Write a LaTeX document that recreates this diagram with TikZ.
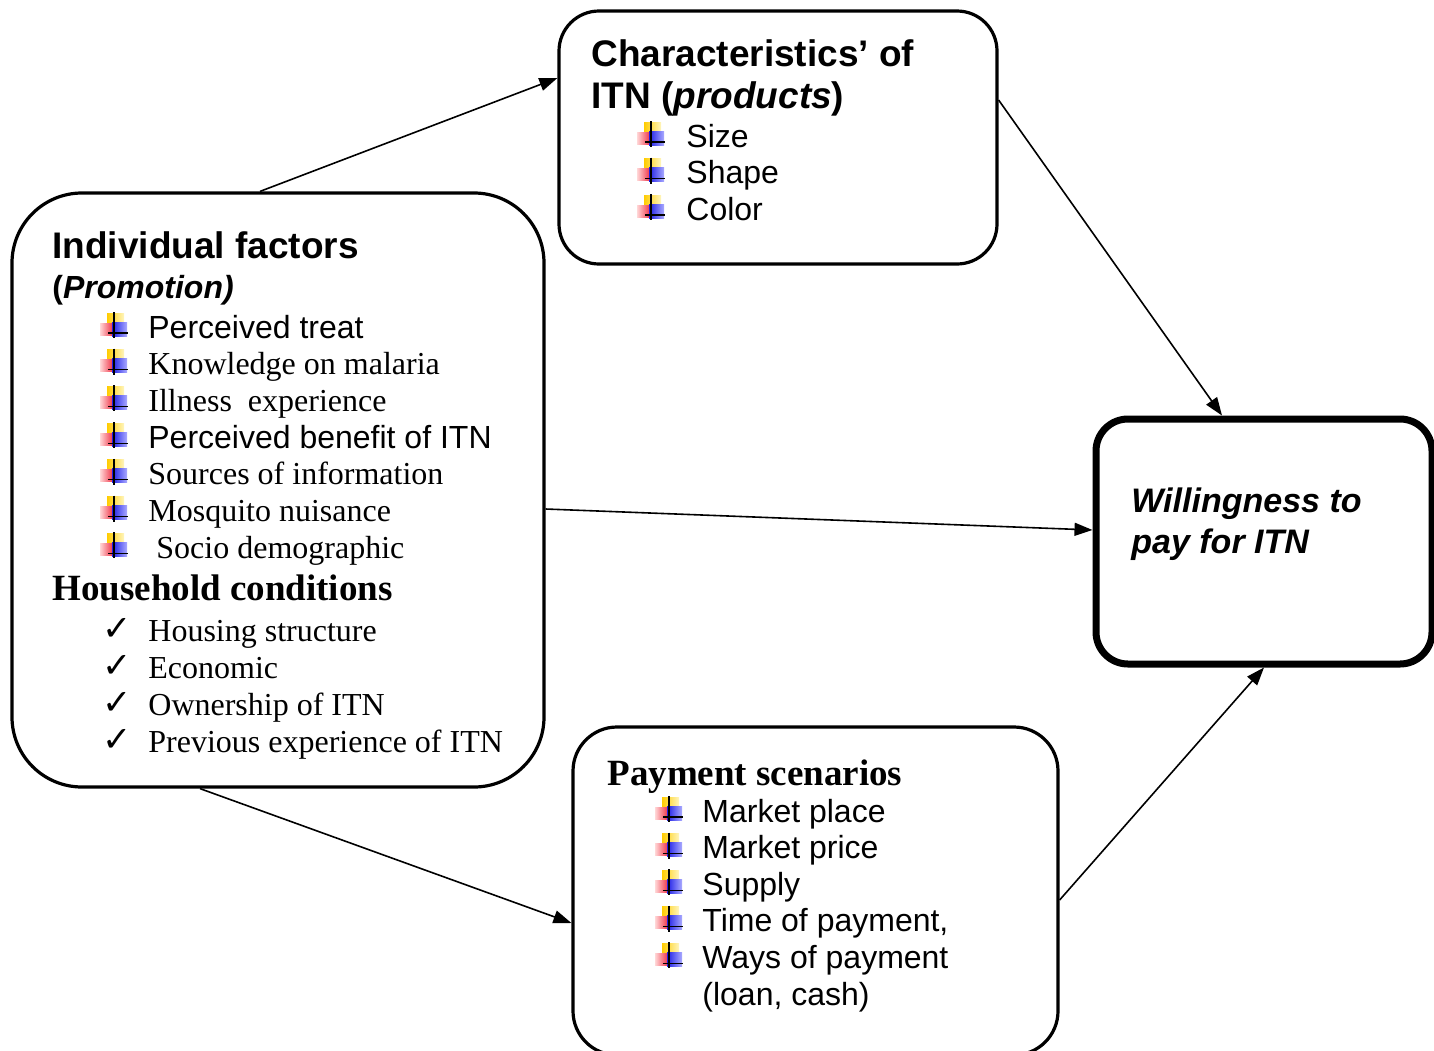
\documentclass[tikz,border=0pt]{standalone}
\usepackage{fontspec}
\setmainfont{Liberation Serif}
\setsansfont{Liberation Sans}
\newfontfamily\checkfont{DejaVu Sans}
\usepackage{tikz}
\usetikzlibrary{positioning}
\usetikzlibrary{shapes,arrows,arrows.meta,fit}

\definecolor{markgold}{RGB}{255,204,0}
\definecolor{marklight}{RGB}{255,245,190}
\definecolor{markred}{RGB}{240,50,70}
\definecolor{markpink}{RGB}{255,215,215}
\definecolor{markblue}{RGB}{30,30,230}
\definecolor{markpale}{RGB}{170,170,255}

\tikzset{
  box/.style={draw, line width=1.6pt, inner sep=0pt},
  head/.style={anchor=base west, inner sep=0pt, font=\sffamily\bfseries\fontsize{18.5}{22}\selectfont},
  serifhead/.style={anchor=base west, inner sep=0pt, font=\bfseries\fontsize{18.5}{22}\selectfont},
  item/.style={anchor=base west, inner sep=0pt, font=\fontsize{16}{19}\selectfont},
  tick/.style={anchor=base west, inner sep=0pt, font=\checkfont\fontsize{17.5}{20}\selectfont},
  link/.style={-{Triangle[length=9pt,width=6.5pt]}, line width=0.8pt},
  itnmark/.pic={
    \shade[left color=markgold, right color=marklight] (7,-25) rectangle (24,-10);
    \shade[left color=markpink, right color=markred] (0,-15) rectangle (13,-3);
    \shade[left color=markblue, right color=markpale] (12,-16) rectangle (27,-2);
    \draw[line width=0.9pt] (14,-26) -- (14,0);
    \draw[line width=0.6pt] (8,-5) -- (28,-5);
  }
}

\begin{document}
\begin{tikzpicture}[x=0.5pt, y=-0.5pt]
  \useasboundingbox (0,0) rectangle (1434,1050);
  \clip (0,0) rectangle (1434,1050);

  % boxes
  \node(indiv) [box, rounded corners=35pt, fit={(12,193) (544,787)}] {};
  \node(char) [box, rounded corners=20pt, fit={(559,11) (997,264)}] {};
  \node(wtp) [box, line width=3.5pt, rounded corners=16pt, fit={(1096,419) (1432,664)}] {};
  \node(pay) [box, rounded corners=22pt, fit={(573,727) (1058,1055)}] {};

  % individual factors
  \node(indivhead) [head] at (52,258) {Individual factors};
  \node(promo) [head, font=\sffamily\bfseries\fontsize{16}{19}\selectfont] at (52,298) {(\textit{Promotion)}};
  \foreach \txt [count=\i from 0] in {{\sffamily Perceived treat}, Knowledge on malaria,
      Illness\ \ experience, {\sffamily Perceived benefit of ITN}, Sources of information,
      Mosquito nuisance, \hspace{4pt}Socio demographic} {
    \pic at (100,{338+36.7*\i}) {itnmark};
    \node(indiv-\i) [item] at (148,{338+36.7*\i}) {\txt};
  }

  % household conditions
  \node(house) [serifhead] at (52,600) {Household conditions};
  \foreach \txt [count=\i from 0] in {Housing structure, Economic, Ownership of ITN,
      Previous experience of ITN} {
    \node(tick-\i) [tick] at (102,{640+37*\i}) {✓};
    \node(house-\i) [item] at (148,{641+37*\i}) {\txt};
  }

  % characteristics
  \node(charhead) [head] at (591,66) {Characteristics’ of};
  \node(charsub) [head] at (591,108) {ITN (\textit{products})};
  \foreach \txt [count=\i from 0] in {Size, Shape, Color} {
    \pic at (637,{147+36.5*\i}) {itnmark};
    \node(char-\i) [item, font=\sffamily\fontsize{16}{19}\selectfont] at (686,{147+36.5*\i}) {\txt};
  }

  % payment scenarios
  \node(payhead) [serifhead] at (607,785) {Payment scenarios};
  \foreach \txt [count=\i from 0] in {Market place, Market price, Supply,
      Time of payment{,}, Ways of payment} {
    \pic at (655,{822+36.6*\i}) {itnmark};
    \node(pay-\i) [item, font=\sffamily\fontsize{16}{19}\selectfont] at (702,{822+36.6*\i}) {\txt};
  }
  \node(payway) [item, font=\sffamily\fontsize{16}{19}\selectfont] at (702,1005) {(loan, cash)};

  % willingness
  \node(wtp-1) [head, font=\sffamily\bfseries\itshape\fontsize{17}{20}\selectfont] at (1131,512) {Willingness to};
  \node(wtp-2) [head, font=\sffamily\bfseries\itshape\fontsize{17}{20}\selectfont] at (1131,553) {pay for ITN};

  \draw [link] ([xshift=-9pt]indiv.north) -- ([yshift=29.75pt]char.west);
  \draw [link] ([yshift=18.75pt]char.east) -- ([xshift=-21pt]wtp.north);
  \draw [link] ([yshift=-9.5pt]indiv.east) -- ([yshift=5.75pt]wtp.west);
  \draw [link] ([xshift=-39pt]indiv.south) -- ([yshift=-16pt]pay.west);
  \draw [link] ([yshift=-4.5pt]pay.east) -- (wtp.south);
\end{tikzpicture}
\end{document}
